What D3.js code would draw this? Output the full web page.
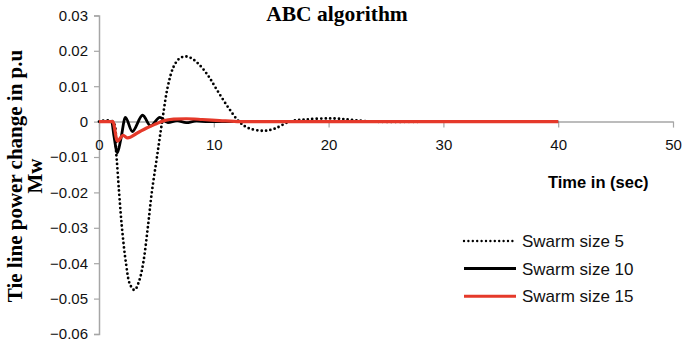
<!DOCTYPE html>
<html lang="en">
  <head>
    <meta charset="utf-8">
    <title>ABC algorithm</title>
    <style>
      body { margin: 0; background: #fff; }
      svg { display: block; }
    </style>
    <script src="https://d3js.org/d3.v7.min.js"></script>
  </head>
  <body>
    <script>
    // time (s) and tie line power change (p.u MW)
    const size5T = [0, 1.2, 1.5, 1.75, 2.0, 2.35, 2.7, 3.1, 3.5, 3.85, 4.25, 4.6, 5.05, 5.5, 6.0, 6.5, 7.0, 7.5, 8.0, 8.7, 9.5, 10.3, 11.3, 12.2, 13.0, 14.3, 15.3, 16.6, 18.0, 20.3, 22.0, 23.8, 30, 40];
    const size5V = [0, 0, -0.009, -0.02, -0.03, -0.04, -0.046, -0.0476, -0.045, -0.04, -0.03, -0.02, -0.01, 0, 0.01, 0.0155, 0.0178, 0.0184, 0.018, 0.0162, 0.013, 0.0088, 0.0038, 0, -0.0018, -0.0026, -0.002, 0, 0.0006, 0.0009, 0.0005, 0, 0, 0];

    const size10T = [0, 1.1, 1.3, 1.6, 1.9, 2.3, 2.9, 3.8, 4.5, 5.3, 6.0, 6.8, 7.6, 8.5, 9.5, 20, 40];
    const size10V = [0, 0, -0.004, -0.0088, -0.005, 0.0012, -0.0028, 0.0018, -0.0012, 0.0012, -0.0003, 0.0003, -0.0003, 0.0002, 0, 0, 0];

    const size15T = [0, 1.2, 1.6, 2.1, 2.5, 3.3, 4.15, 5.0, 5.6, 6.5, 7.6, 9.0, 10.5, 12.3, 20, 40];
    const size15V = [0, 0, -0.0055, -0.0039, -0.0046, -0.0033, -0.0018, -0.0006, 0.0002, 0.0007, 0.0008, 0.0006, 0.0003, 0, 0, 0];

    const xTicks = [0, 10, 20, 30, 40, 50];
    const yTicks = [0.03, 0.02, 0.01, 0, -0.01, -0.02, -0.03, -0.04, -0.05, -0.06];
    const seriesNames = ["Swarm size 5", "Swarm size 10", "Swarm size 15"];

    const width = 686, height = 346;

    const svg = d3.select("body")
      .append("svg")
      .attr("width", width)
      .attr("height", height)

    const x = d3.scaleLinear().domain([0, 50]).range([99, 673])
    const y = d3.scaleLinear().domain([-0.06, 0.03]).range([334, 15.4])

    const grey = "#a6a6a6"

    // y axis
    svg.append("g")
      .attr("transform", `translate(${x(0)},0)`)
      .call(d3.axisLeft(y).tickValues(yTicks).tickSize(5).tickPadding(6)
        .tickFormat(d => d === 0 ? "0" : d3.format(".2f")(d)))
      .call(g => g.select(".domain").attr("stroke", grey).attr("stroke-width", 1.5))
      .call(g => g.selectAll(".tick line").attr("stroke", grey).attr("stroke-width", 1.2))
      .call(g => g.selectAll(".tick text")
        .attr("fill", "#111")
        .style("font-family", "'Liberation Sans', Arial, sans-serif")
        .style("font-size", "15px"))

    // x axis at zero
    svg.append("g")
      .attr("transform", `translate(0,${y(0)})`)
      .call(d3.axisBottom(x).tickValues(xTicks).tickSize(6).tickPadding(12).tickSizeOuter(0))
      .call(g => g.select(".domain").attr("stroke", grey).attr("stroke-width", 1.5))
      .call(g => g.selectAll(".tick line").attr("stroke", grey).attr("stroke-width", 1.2))
      .call(g => g.selectAll(".tick text")
        .attr("fill", "#111")
        .style("font-family", "'Liberation Sans', Arial, sans-serif")
        .style("font-size", "15px"))

    const line = d3.line()
      .x(d => x(d[0]))
      .y(d => y(d[1]))
      .curve(d3.curveMonotoneX)

    const zip = (ts, vs) => ts.map((t, i) => [t, vs[i]])

    svg.append("path")
      .datum(zip(size5T, size5V))
      .attr("d", line.curve(d3.curveCatmullRom))
      .attr("fill", "none")
      .attr("stroke", "#000")
      .attr("stroke-width", 2.8)
      .attr("stroke-linecap", "round")
      .attr("stroke-dasharray", "0,4.4")

    line.curve(d3.curveMonotoneX)

    svg.append("path")
      .datum(zip(size10T, size10V))
      .attr("d", line)
      .attr("fill", "none")
      .attr("stroke", "#000")
      .attr("stroke-width", 2.8)

    svg.append("path")
      .datum(zip(size15T, size15V))
      .attr("d", line)
      .attr("fill", "none")
      .attr("stroke", "#e5392a")
      .attr("stroke-width", 3.2)

    // title
    svg.append("text")
      .attr("x", 337)
      .attr("y", 21)
      .attr("text-anchor", "middle")
      .style("font-family", "'Liberation Serif', 'Times New Roman', serif")
      .style("font-weight", "bold")
      .style("font-size", "21.5px")
      .text("ABC algorithm")

    // y label
    const yl = svg.append("text")
      .attr("transform", "translate(22,176) rotate(-90)")
      .attr("text-anchor", "middle")
      .style("font-family", "'Liberation Serif', 'Times New Roman', serif")
      .style("font-weight", "bold")
      .style("font-size", "21px")
    yl.append("tspan").attr("x", 0).attr("y", 0).text("Tie line power change in p.u")
    yl.append("tspan").attr("x", 0).attr("y", 20).text("Mw")

    // x label
    svg.append("text")
      .attr("x", 548)
      .attr("y", 188)
      .style("font-family", "'Liberation Sans', Arial, sans-serif")
      .style("font-weight", "bold")
      .style("font-size", "16.5px")
      .text("Time in (sec)")

    // legend
    const legend = svg.append("g")
    const styles = [
      {stroke: "#000", w: 2.4, dash: "0,4.4", cap: "round"},
      {stroke: "#000", w: 3, dash: null, cap: "butt"},
      {stroke: "#e5392a", w: 3, dash: null, cap: "butt"}
    ]
    seriesNames.forEach((name, i) => {
      const ly = 241 + i * 27.6
      legend.append("line")
        .attr("x1", 464).attr("x2", 516)
        .attr("y1", ly).attr("y2", ly)
        .attr("stroke", styles[i].stroke)
        .attr("stroke-width", styles[i].w)
        .attr("stroke-linecap", styles[i].cap)
        .attr("stroke-dasharray", styles[i].dash)
      legend.append("text")
        .attr("x", 522)
        .attr("y", ly + 6)
        .style("font-family", "'Liberation Sans', Arial, sans-serif")
        .style("font-size", "17px")
        .attr("fill", "#111")
        .text(name)
    })
    </script>
  </body>
</html>
